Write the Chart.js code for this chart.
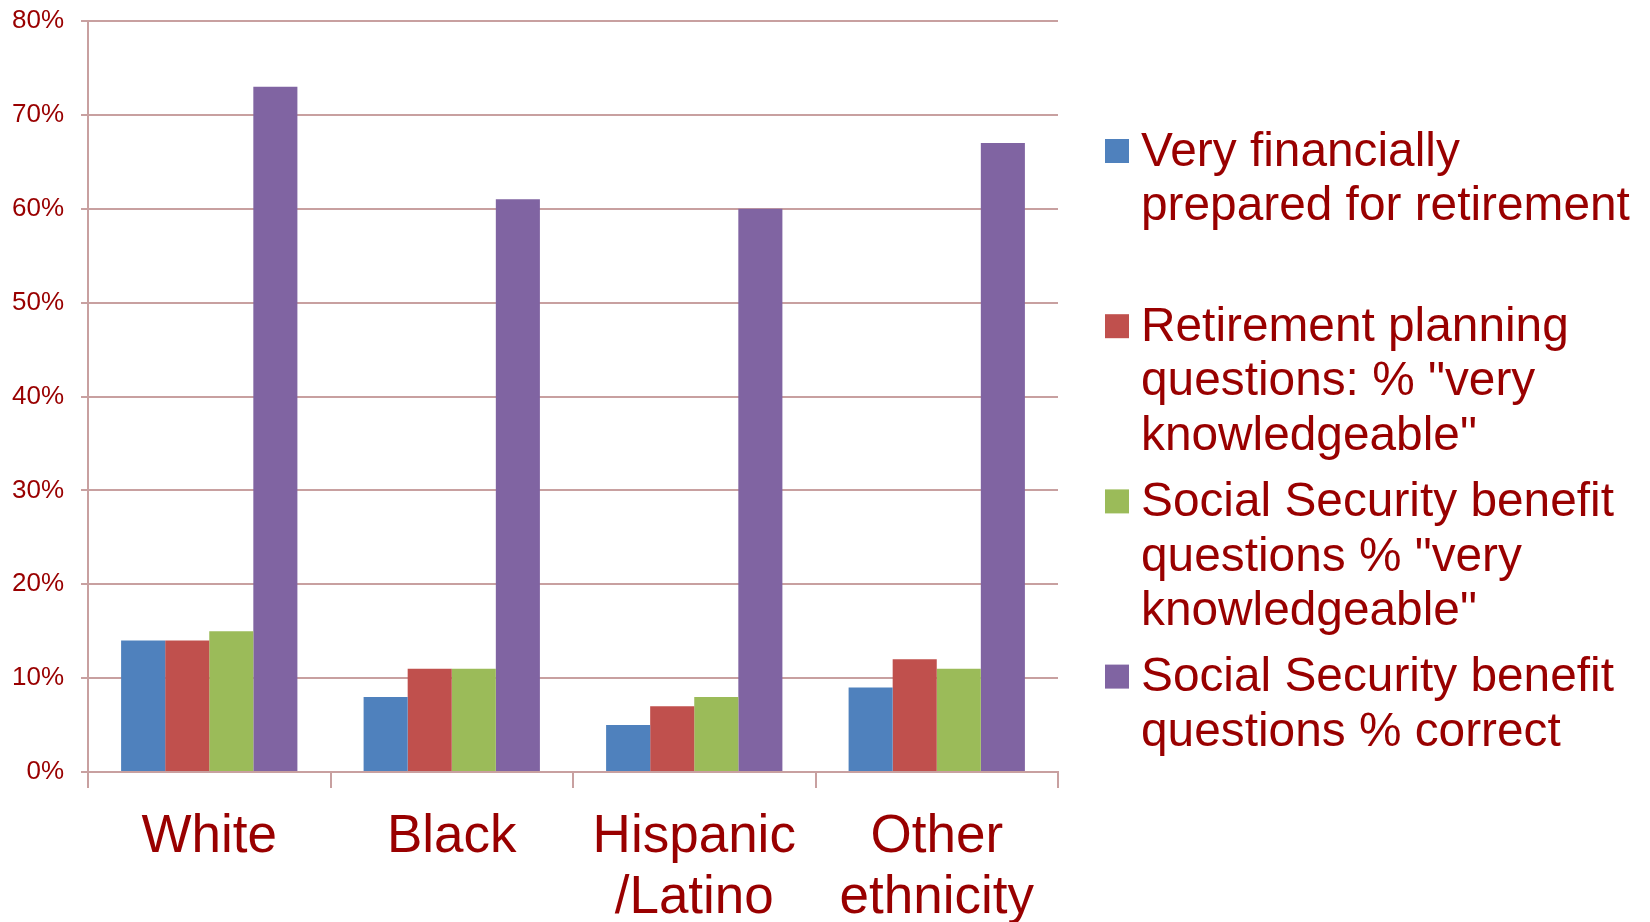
<!DOCTYPE html>
<html>
<head>
<meta charset="utf-8">
<script src="https://cdn.jsdelivr.net/npm/chart.js@4"></script>
<style>
html,body{margin:0;padding:0;background:#fff;}
#wrap{width:1650px;height:922px;position:relative;}
</style>
</head>
<body>
<div id="wrap"><canvas id="chart"></canvas></div>
<script>
const categories = ['White', 'Black', ['Hispanic', '/Latino'], ['Other', 'ethnicity']];

const preparedPct = [14, 8, 5, 9];
const planningKnowPct = [14, 11, 7, 12];
const ssKnowPct = [15, 11, 8, 11];
const ssCorrectPct = [73, 61, 60, 67];

const yMax = 80;
const yStep = 10;

const seriesLines = [
  ['Very financially', 'prepared for retirement'],
  ['Retirement planning', 'questions: % "very', 'knowledgeable"'],
  ['Social Security benefit', 'questions % "very', 'knowledgeable"'],
  ['Social Security benefit', 'questions % correct']
];
const seriesColors = ['#4F81BD', '#C0504D', '#9BBB59', '#8064A2'];

const textColor = '#990000';
const gridColor = '#C8A0A0';
const fontFamily = '"Liberation Sans", Arial, sans-serif';

// legend drawn by hand so each entry can wrap over several lines
const sideLegend = {
  id: 'sideLegend',
  afterDraw(chart) {
    const ctx = chart.ctx;
    ctx.save();
    ctx.font = '47.8px ' + fontFamily;
    ctx.textAlign = 'left';
    ctx.textBaseline = 'alphabetic';
    chart.data.datasets.forEach((ds, i) => {
      const top = 139 + i * 175.2;
      ctx.fillStyle = ds.backgroundColor;
      ctx.fillRect(1105, top, 24, 24);
      ctx.fillStyle = textColor;
      ds.lines.forEach((line, j) => {
        ctx.fillText(line, 1141, top + 26.5 + j * 54.7);
      });
    });
    ctx.restore();
  }
};

const datasets = [preparedPct, planningKnowPct, ssKnowPct, ssCorrectPct].map((vals, i) => ({
  label: seriesLines[i].join(' '),
  lines: seriesLines[i],
  data: vals,
  backgroundColor: seriesColors[i],
  borderWidth: 0,
  categoryPercentage: 0.727,
  barPercentage: 1.0
}));

new Chart(document.getElementById('chart'), {
  type: 'bar',
  data: { labels: categories, datasets: datasets },
  options: {
    responsive: true,
    maintainAspectRatio: false,
    animation: false,
    layout: { padding: { top: 21, right: 592, left: 0, bottom: 0 } },
    plugins: {
      legend: { display: false },
      tooltip: { enabled: false }
    },
    scales: {
      x: {
        grid: {
          offset: true,
          drawOnChartArea: false,
          color: gridColor,
          lineWidth: 2,
          tickLength: 16
        },
        border: { color: gridColor, width: 2 },
        ticks: {
          color: textColor,
          font: { family: fontFamily, size: 53, lineHeight: 1.15 },
          padding: 19,
          maxRotation: 0,
          autoSkip: false
        },
        afterFit(scale) { scale.height = 150; }
      },
      y: {
        min: 0,
        max: yMax,
        grid: {
          color: gridColor,
          lineWidth: 2,
          tickLength: 7
        },
        border: { color: gridColor, width: 2 },
        ticks: {
          stepSize: yStep,
          color: textColor,
          font: { family: fontFamily, size: 26 },
          padding: 17,
          callback: v => v + '%'
        },
        afterFit(scale) {
          scale.width = 88;
          // the top label may hang into the outer padding
          scale.paddingTop = 0;
          scale.paddingBottom = 0;
        }
      }
    }
  },
  plugins: [sideLegend]
});
</script>
</body>
</html>
